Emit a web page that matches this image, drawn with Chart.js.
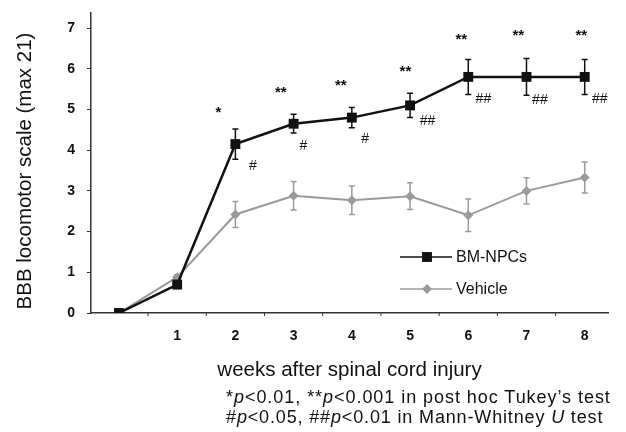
<!DOCTYPE html>
<html lang="en">
<head>
    <meta charset="UTF-8">
    <title>BBB locomotor scale</title>
    <style>
        body {
            margin: 0;
            background: #fff;
        }

        #wrap {
            position: relative;
            width: 626px;
            height: 432px;
        }

        .note {
            position: absolute;
            left: 226px;
            font-family: "Liberation Sans", Arial, sans-serif;
            font-size: 18px;
            color: #111;
            white-space: nowrap;
            line-height: 20px;
        }
    </style>
</head>
<body>
<div id="wrap">
    <canvas id="bbbChart" width="626" height="432"></canvas>
    <div class="note" style="top:387px;letter-spacing:0.95px">*<i>p</i>&lt;0.01, **<i>p</i>&lt;0.001 in post hoc Tukey’s test</div>
    <div class="note" style="top:407px;letter-spacing:0.85px">#<i>p</i>&lt;0.05, ##<i>p</i>&lt;0.01 in Mann-Whitney <i>U</i> test</div>
</div>

<script src="https://cdn.jsdelivr.net/npm/chart.js"></script>
<script>
    const weeks = [0, 1, 2, 3, 4, 5, 6, 7, 8];
    const xTickValues = [1, 2, 3, 4, 5, 6, 7, 8];
    const xTickLabels = ['1', '2', '3', '4', '5', '6', '7', '8'];
    const yTickValues = [0, 1, 2, 3, 4, 5, 6, 7];

    const npcMean = [0, 0.7, 4.15, 4.65, 4.8, 5.1, 5.8, 5.8, 5.8];
    const npcErr = [0, 0.1, 0.37, 0.23, 0.25, 0.3, 0.43, 0.45, 0.43];
    const vehMean = [0, 0.88, 2.42, 2.88, 2.77, 2.87, 2.4, 3.0, 3.33];
    const vehErr = [0, 0.06, 0.32, 0.35, 0.35, 0.33, 0.4, 0.32, 0.38];

    // significance marks, anchored in data units
    const starText = ['*', '**', '**', '**', '**', '**', '**'];
    const starX = [1.71, 2.78, 3.81, 4.92, 5.88, 6.86, 7.94];
    const starY = [4.99, 5.48, 5.65, 6.0, 6.78, 6.88, 6.88];
    const hashText = ['#', '#', '#', '##', '##', '##', '##'];
    const hashX = [2.3, 3.17, 4.23, 5.3, 6.26, 7.23, 8.26];
    const hashY = [3.6, 4.09, 4.26, 4.72, 5.26, 5.24, 5.26];
    const boundaryTicks = [0.5, 1.5, 2.5, 3.5, 4.5, 5.5, 6.5, 7.5];

    const yTitle = 'BBB locomotor scale (max 21)';

    const BLACK = '#111';
    const GRAY = '#9a9a9a';
    const FONT = '"Liberation Sans", Arial, sans-serif';

    const errorBars = {
        id: 'errorBars',
        beforeDatasetsDraw(chart) {
            const ctx = chart.ctx;
            const x = chart.scales.x, y = chart.scales.y;
            const sets = [[vehMean, vehErr, GRAY], [npcMean, npcErr, BLACK]];
            ctx.save();
            for (const [mean, err, color] of sets) {
                ctx.strokeStyle = color;
                ctx.lineWidth = 1.5;
                weeks.forEach((w, i) => {
                    if (!err[i]) return;
                    const px = x.getPixelForValue(w);
                    const top = y.getPixelForValue(mean[i] + err[i]);
                    const bot = y.getPixelForValue(mean[i] - err[i]);
                    ctx.beginPath();
                    ctx.moveTo(px, top); ctx.lineTo(px, bot);
                    ctx.moveTo(px - 3, top); ctx.lineTo(px + 3, top);
                    ctx.moveTo(px - 3, bot); ctx.lineTo(px + 3, bot);
                    ctx.stroke();
                });
            }
            ctx.restore();
        }
    };

    const extras = {
        id: 'extras',
        afterDraw(chart) {
            const ctx = chart.ctx;
            const x = chart.scales.x, y = chart.scales.y;
            const area = chart.chartArea;
            ctx.save();

            // tick marks between categories
            ctx.strokeStyle = '#333';
            ctx.lineWidth = 1;
            for (const v of boundaryTicks) {
                const px = x.getPixelForValue(v);
                ctx.beginPath();
                ctx.moveTo(px, area.bottom);
                ctx.lineTo(px, area.bottom + 3);
                ctx.stroke();
            }

            // y axis title, sits a little below the area centre in the original
            ctx.save();
            ctx.translate(25, (area.top + area.bottom) / 2 + 8);
            ctx.rotate(-Math.PI / 2);
            ctx.fillStyle = BLACK;
            ctx.font = '20.5px ' + FONT;
            ctx.textAlign = 'center';
            ctx.textBaseline = 'middle';
            ctx.fillText(yTitle, 0, 0);
            ctx.restore();

            // * and # marks
            ctx.fillStyle = BLACK;
            ctx.textAlign = 'center';
            ctx.textBaseline = 'middle';
            ctx.font = 'bold 15px ' + FONT;
            starText.forEach((t, i) => {
                ctx.fillText(t, x.getPixelForValue(starX[i]), y.getPixelForValue(starY[i]) + 3);
            });
            ctx.font = '14px ' + FONT;
            hashText.forEach((t, i) => {
                ctx.fillText(t, x.getPixelForValue(hashX[i]), y.getPixelForValue(hashY[i]));
            });

            // legend
            const items = [
                {label: 'BM-NPCs', color: BLACK, style: 'rect', r: 7, w: 1.5},
                {label: 'Vehicle', color: GRAY, style: 'rectRot', r: 5, w: 1.5}
            ];
            ctx.textAlign = 'left';
            ctx.font = '16px ' + FONT;
            items.forEach((it, i) => {
                const ly = area.top + 244 + i * 32;
                const lx = area.left + 309;
                ctx.strokeStyle = it.color;
                ctx.lineWidth = it.w;
                ctx.beginPath();
                ctx.moveTo(lx, ly);
                ctx.lineTo(lx + 52, ly);
                ctx.stroke();
                ctx.fillStyle = it.color;
                Chart.helpers.drawPoint(ctx, {pointStyle: it.style, radius: it.r, borderWidth: 0}, lx + 27, ly);
                ctx.fillStyle = BLACK;
                ctx.fillText(it.label, lx + 56, ly + 1);
            });
            ctx.restore();
        }
    };

    function noEdgePadding(s) {
        s.paddingTop = 0;
        s.paddingBottom = 0;
        s.paddingLeft = 0;
        s.paddingRight = 0;
    }

    new Chart(document.getElementById('bbbChart'), {
        type: 'line',
        data: {
            datasets: [
                {
                    label: 'BM-NPCs',
                    data: weeks.map((w, i) => ({x: w, y: npcMean[i]})),
                    borderColor: BLACK,
                    backgroundColor: BLACK,
                    borderWidth: 2.5,
                    pointStyle: 'rect',
                    pointRadius: 7,
                    pointBorderWidth: 0
                },
                {
                    label: 'Vehicle',
                    data: weeks.map((w, i) => ({x: w, y: vehMean[i]})),
                    borderColor: GRAY,
                    backgroundColor: GRAY,
                    borderWidth: 2,
                    pointStyle: 'rectRot',
                    pointRadius: 5,
                    pointBorderWidth: 0
                }
            ]
        },
        options: {
            responsive: false,
            animation: false,
            layout: {padding: {left: 0, top: 13, right: 18, bottom: 48}},
            plugins: {
                legend: {display: false},
                tooltip: {enabled: false}
            },
            scales: {
                x: {
                    type: 'linear',
                    min: -0.48,
                    max: 8.4,
                    afterBuildTicks: s => { s.ticks = xTickValues.map(v => ({value: v})); },
                    afterFit: s => { s.height = 71; noEdgePadding(s); },
                    ticks: {
                        autoSkip: false,
                        maxRotation: 0,
                        padding: 15,
                        color: BLACK,
                        font: {family: FONT, size: 14, weight: 'bold'},
                        callback: (v, i) => xTickLabels[i]
                    },
                    grid: {display: false, drawTicks: false},
                    border: {color: '#333', width: 1.5},
                    title: {
                        display: true,
                        text: 'weeks after spinal cord injury',
                        color: BLACK,
                        font: {family: FONT, size: 20.5},
                        padding: {top: 0, bottom: 1}
                    }
                },
                y: {
                    min: 0,
                    max: 7.37,
                    afterBuildTicks: s => { s.ticks = yTickValues.map(v => ({value: v})); },
                    afterFit: s => { s.width = 91; noEdgePadding(s); },
                    ticks: {
                        padding: 12,
                        color: BLACK,
                        font: {family: FONT, size: 14, weight: 'bold'}
                    },
                    grid: {display: true, drawOnChartArea: false, drawTicks: true, tickLength: 4, color: '#333'},
                    border: {color: '#333', width: 1.5}
                }
            }
        },
        plugins: [errorBars, extras]
    });
</script>
</body>
</html>
